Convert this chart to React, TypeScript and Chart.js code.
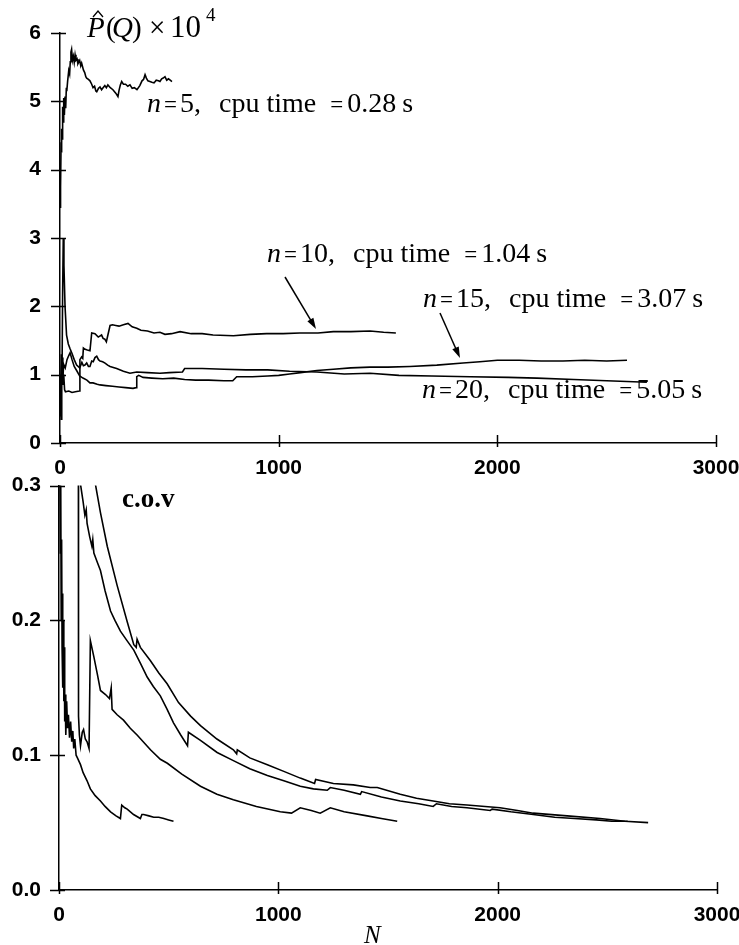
import React, { useEffect, useRef } from 'react';
import { Chart, registerables } from 'chart.js';

Chart.register(...registerables);

// ---------- data ----------
const xTickValues = [0, 1000, 2000, 3000];
const pTickValues = [0, 1, 2, 3, 4, 5, 6];
const covTickValues = [0, 0.1, 0.2, 0.3];

const caseN = ['5', '10', '15', '20'];
const cpuTimes = ['0.28', '1.04', '3.07', '5.05'];

// [N, P^(Q) x 10^4]
const p5: [number, number][] = [[0,3.45],[2,4.0],[3,3.75],[5,4.4],[7,4.25],[8,4.6],[10,4.45],[12,4.92],[14,4.7],[17,5.05],[20,4.8],[23,5.07],[26,4.9],[29,5.2],[31,5.15],[35,5.3],[40,5.45],[44,5.4],[47,5.58],[50,5.72],[53,5.76],[57,5.6],[61,5.66],[65,5.57],[69,5.68],[73,5.6],[78,5.62],[82,5.55],[90,5.6],[95,5.52],[99,5.56],[107,5.46],[113,5.42],[118,5.36],[122,5.34],[130,5.32],[137,5.3],[145,5.25],[151,5.2],[158,5.22],[164,5.15],[168,5.14],[176,5.19],[183,5.21],[190,5.17],[197,5.2],[205,5.23],[212,5.2],[219,5.24],[230,5.2],[242,5.17],[255,5.12],[265,5.07],[270,5.16],[276,5.24],[282,5.29],[290,5.25],[300,5.25],[310,5.22],[320,5.24],[330,5.19],[340,5.2],[352,5.17],[365,5.23],[375,5.3],[382,5.32],[389,5.39],[395,5.34],[402,5.3],[411,5.29],[420,5.28],[430,5.27],[440,5.31],[450,5.3],[457,5.29],[465,5.33],[472,5.34],[480,5.36],[488,5.31],[496,5.33],[504,5.31],[512,5.29]];
const p10: [number, number][] = [[0,0.4],[2,0.9],[4,0.45],[7,1.1],[10,1.25],[13,0.85],[17,1.0],[21,0.78],[25,0.75],[40,0.76],[55,0.74],[70,0.75],[89,0.76],[91,1.22],[99,1.26],[104,1.24],[107,1.39],[115,1.37],[125,1.36],[137,1.35],[145,1.61],[160,1.6],[175,1.55],[190,1.58],[197,1.53],[205,1.52],[212,1.48],[219,1.58],[229,1.72],[240,1.73],[255,1.72],[270,1.71],[290,1.73],[311,1.75],[330,1.7],[351,1.68],[370,1.65],[400,1.64],[430,1.61],[457,1.62],[480,1.59],[510,1.6],[549,1.63],[600,1.6],[650,1.6],[700,1.58],[793,1.57],[870,1.59],[945,1.6],[1020,1.6],[1097,1.61],[1180,1.61],[1250,1.63],[1330,1.63],[1418,1.64],[1480,1.62],[1536,1.61]];
const p15: [number, number][] = [[0,0.5],[2,1.0],[5,0.35],[8,1.1],[12,0.9],[17,1.15],[24,1.1],[32,1.22],[40,1.28],[46,1.32],[55,1.22],[65,1.12],[78,1.05],[90,0.98],[105,0.95],[123,0.92],[137,0.88],[151,0.88],[170,0.86],[183,0.85],[210,0.84],[240,0.83],[270,0.82],[300,0.81],[334,0.8],[348,0.81],[351,0.97],[360,0.99],[380,0.96],[420,0.95],[470,0.94],[520,0.95],[570,0.93],[620,0.92],[680,0.92],[750,0.91],[790,0.91],[808,0.97],[880,0.97],[950,0.98],[1000,0.99],[1050,1.01],[1100,1.03],[1175,1.06],[1250,1.08],[1330,1.1],[1418,1.11],[1500,1.11],[1600,1.12],[1723,1.14],[1843,1.17],[1920,1.19],[2000,1.21],[2100,1.21],[2200,1.2],[2300,1.2],[2400,1.21],[2500,1.2],[2593,1.21]];
const p20: [number, number][] = [[0,1.0],[3,0.55],[6,1.3],[9,0.9],[12,2.2],[15,3.0],[18,2.6],[23,2.0],[30,1.58],[38,1.45],[46,1.38],[55,1.31],[65,1.22],[76,1.14],[90,1.1],[100,1.18],[107,1.13],[114,1.14],[122,1.17],[130,1.12],[137,1.12],[145,1.2],[152,1.19],[160,1.25],[168,1.27],[176,1.22],[183,1.2],[195,1.19],[206,1.17],[218,1.14],[229,1.12],[259,1.09],[290,1.05],[320,1.02],[351,1.04],[400,1.03],[457,1.02],[500,1.03],[560,1.04],[570,1.09],[650,1.09],[750,1.08],[850,1.07],[950,1.07],[1050,1.05],[1175,1.04],[1300,1.01],[1418,1.02],[1550,0.99],[1700,0.98],[1875,0.97],[2050,0.96],[2181,0.95],[2350,0.93],[2500,0.91],[2684,0.89]];

// [N, c.o.v]
const c5: [number, number][] = [[0,0.45],[2,0.3],[4,0.35],[6,0.25],[8,0.3],[10,0.2],[12,0.26],[14,0.18],[16,0.22],[18,0.15],[20,0.2],[22,0.14],[24,0.18],[26,0.125],[28,0.145],[31,0.115],[35,0.14],[39,0.12],[43,0.13],[48,0.113],[53,0.125],[58,0.11],[63,0.118],[67,0.105],[72,0.112],[78,0.1],[84,0.098],[98,0.093],[110,0.087],[128,0.081],[143,0.075],[165,0.07],[189,0.066],[210,0.062],[235,0.058],[260,0.055],[280,0.053],[286,0.063],[300,0.061],[311,0.06],[340,0.056],[371,0.053],[378,0.056],[386,0.056],[410,0.055],[432,0.054],[455,0.054],[478,0.053],[500,0.052],[522,0.051]];
const c10: [number, number][] = [[0,0.9],[88,0.42],[89,0.129],[93,0.115],[98,0.107],[106,0.117],[112,0.119],[120,0.112],[128,0.11],[137,0.105],[143,0.185],[159,0.173],[175,0.16],[189,0.148],[212,0.145],[230,0.142],[238,0.15],[242,0.134],[265,0.13],[294,0.126],[325,0.12],[356,0.115],[417,0.104],[462,0.097],[494,0.094],[560,0.086],[645,0.077],[720,0.071],[795,0.067],[900,0.062],[1009,0.058],[1060,0.057],[1100,0.061],[1150,0.059],[1191,0.057],[1237,0.061],[1300,0.058],[1405,0.055],[1470,0.053],[1542,0.051]];
const c15: [number, number][] = [[80,0.34],[98,0.301],[110,0.288],[118,0.278],[124,0.282],[128,0.272],[140,0.262],[150,0.255],[154,0.26],[159,0.25],[175,0.243],[189,0.237],[210,0.222],[235,0.207],[255,0.2],[280,0.192],[310,0.185],[341,0.178],[372,0.168],[402,0.158],[430,0.151],[462,0.144],[493,0.134],[522,0.124],[555,0.115],[586,0.107],[590,0.117],[645,0.111],[721,0.102],[795,0.096],[870,0.09],[950,0.085],[1025,0.081],[1100,0.077],[1160,0.075],[1223,0.074],[1237,0.076],[1300,0.074],[1374,0.071],[1380,0.073],[1470,0.069],[1556,0.066],[1640,0.064],[1706,0.062],[1721,0.064],[1790,0.062],[1860,0.061],[1966,0.059],[1975,0.06],[2060,0.058],[2162,0.056],[2260,0.054],[2350,0.053],[2450,0.052],[2520,0.051],[2593,0.051]];
const c20: [number, number][] = [[150,0.34],[166,0.301],[189,0.28],[220,0.255],[265,0.226],[311,0.199],[341,0.182],[352,0.18],[356,0.186],[371,0.18],[417,0.17],[455,0.161],[493,0.153],[545,0.139],[600,0.129],[645,0.122],[720,0.112],[795,0.104],[810,0.101],[813,0.104],[870,0.098],[950,0.093],[1025,0.088],[1100,0.083],[1165,0.079],[1170,0.082],[1251,0.079],[1342,0.078],[1419,0.076],[1451,0.076],[1556,0.071],[1630,0.068],[1706,0.066],[1780,0.064],[1860,0.063],[2011,0.061],[2090,0.059],[2162,0.057],[2317,0.055],[2467,0.053],[2580,0.051],[2686,0.05]];

const pSeries = [p5, p10, p15, p20];
const covSeries = [c5, c10, c15, c20];

// ---------- layout / style ----------
const CANVAS_W = 770;
const TOP = { top: 0, height: 490, left: 60, right: 716, areaTop: 33, areaBottom: 443 };
const BOT = { top: 455, height: 490, left: 59, right: 717, areaTop: 479, areaBottom: 890 };
const tickFont = { family: '"Liberation Sans", Arial, sans-serif', size: 21, weight: 'bold' as const };
const serif = (size: number, italic = false, bold = false) =>
  `${italic ? 'italic ' : ''}${bold ? 'bold ' : ''}${size}px "Liberation Serif", "Times New Roman", serif`;

const caseLabelPos = [
  { x: 147, y: 112 },
  { x: 267, y: 262 },
  { x: 423, y: 307 },
  { x: 422, y: 398 },
];
const arrows = [
  { x1: 285, y1: 277, x2: 316, y2: 329 },
  { x1: 440, y1: 313, x2: 460, y2: 358 },
];

function drawArrow(ctx: CanvasRenderingContext2D, a: { x1: number; y1: number; x2: number; y2: number }) {
  const ang = Math.atan2(a.y2 - a.y1, a.x2 - a.x1);
  const L = 11, W = 3.5;
  ctx.beginPath();
  ctx.moveTo(a.x1, a.y1);
  ctx.lineTo(a.x2 - L * 0.7 * Math.cos(ang), a.y2 - L * 0.7 * Math.sin(ang));
  ctx.lineWidth = 1.5;
  ctx.stroke();
  ctx.beginPath();
  ctx.moveTo(a.x2, a.y2);
  ctx.lineTo(a.x2 - L * Math.cos(ang) + W * Math.sin(ang), a.y2 - L * Math.sin(ang) - W * Math.cos(ang));
  ctx.lineTo(a.x2 - L * Math.cos(ang) - W * Math.sin(ang), a.y2 - L * Math.sin(ang) + W * Math.cos(ang));
  ctx.closePath();
  ctx.fill();
}

function drawCaseLabel(ctx: CanvasRenderingContext2D, x: number, y: number, n: string, t: string) {
  const pieces = [
    { t: 'n', size: 28, italic: true, gap: 3 },
    { t: '=', size: 23, gap: 3 },
    { t: n + ',', size: 28, gap: 18 },
    { t: 'cpu time', size: 28, gap: 14 },
    { t: '=', size: 23, gap: 4 },
    { t: t, size: 28, gap: 6 },
    { t: 's', size: 28, gap: 0 },
  ];
  let cx = x;
  for (const p of pieces) {
    ctx.font = serif(p.size, !!(p as any).italic);
    ctx.fillText(p.t, cx, y);
    cx += ctx.measureText(p.t).width + p.gap;
  }
}

function crossTicksPlugin(yOut: number, yIn: number, xIn: number, xOut: number) {
  return {
    id: 'crossTicks',
    afterDraw(chart: any) {
      const { ctx, chartArea, scales } = chart;
      ctx.save();
      ctx.strokeStyle = '#000';
      ctx.lineWidth = 1.5;
      ctx.beginPath();
      for (const t of scales.x.ticks) {
        const px = Math.round(scales.x.getPixelForValue(t.value)) + 0.5;
        ctx.moveTo(px, chartArea.bottom - xIn);
        ctx.lineTo(px, chartArea.bottom + xOut);
      }
      for (const t of scales.y.ticks) {
        const py = Math.round(scales.y.getPixelForValue(t.value)) + 0.5;
        ctx.moveTo(chartArea.left - yOut, py);
        ctx.lineTo(chartArea.left + yIn, py);
      }
      ctx.stroke();
      ctx.restore();
    },
  };
}

function makeOptions(cfg: typeof TOP, yMin: number, yMax: number, yTicks: number[], yFmt: (v: number) => string, xPad: number, yPad: number) {
  return {
    animation: false as const,
    responsive: false,
    maintainAspectRatio: false,
    events: [] as any[],
    layout: { padding: { left: 0, top: cfg.areaTop - cfg.top, right: CANVAS_W - cfg.right, bottom: 0 } },
    plugins: { legend: { display: false }, tooltip: { enabled: false } },
    scales: {
      x: {
        type: 'linear' as const,
        min: 0,
        max: 3000,
        afterBuildTicks: (s: any) => { s.ticks = xTickValues.map((v) => ({ value: v })); },
        afterFit: (s: any) => { s.height = cfg.top + cfg.height - cfg.areaBottom; },
        grid: { display: false, drawTicks: false },
        border: { display: true, color: '#000', width: 1.5 },
        ticks: { padding: xPad, font: tickFont, color: '#000', maxRotation: 0, autoSkip: false, callback: (v: any) => String(v) },
      },
      y: {
        type: 'linear' as const,
        min: yMin,
        max: yMax,
        afterBuildTicks: (s: any) => { s.ticks = yTicks.map((v) => ({ value: v })); },
        afterFit: (s: any) => { s.width = cfg.left; },
        grid: { display: false, drawTicks: false },
        border: { display: true, color: '#000', width: 1.5 },
        ticks: { padding: yPad, font: tickFont, color: '#000', autoSkip: false, callback: (v: any) => yFmt(Number(v)) },
      },
    },
  };
}

function datasetsFrom(series: [number, number][][]) {
  return series.map((s, i) => ({
    label: 'n=' + caseN[i],
    data: s.map(([x, y]) => ({ x, y })),
    borderColor: '#000',
    borderWidth: 1.6,
    pointRadius: 0,
    tension: 0,
    fill: false,
  }));
}

export default function App() {
  const topRef = useRef<HTMLCanvasElement>(null);
  const botRef = useRef<HTMLCanvasElement>(null);

  useEffect(() => {
    const topAnn = {
      id: 'topAnn',
      afterDraw(chart: any) {
        const ctx: CanvasRenderingContext2D = chart.ctx;
        ctx.save();
        ctx.fillStyle = '#000';
        ctx.strokeStyle = '#000';
        ctx.textBaseline = 'alphabetic';
        ctx.textAlign = 'left';
        // axis title  P^(Q) x 10^4
        const by = 37 - TOP.top;
        ctx.font = serif(29, true);
        ctx.fillText('P', 87, by);
        ctx.font = serif(29);
        ctx.fillText('(', 106, by);
        ctx.font = serif(29, true);
        ctx.fillText('Q', 112, by);
        ctx.font = serif(29);
        ctx.fillText(')', 132, by);
        ctx.fillText('\u00d7', 149, by);
        ctx.font = serif(31);
        ctx.fillText('10', 170, by);
        ctx.font = serif(19);
        ctx.fillText('4', 206, 21 - TOP.top);
        ctx.lineWidth = 1.3;
        ctx.beginPath();
        ctx.moveTo(93, 17);
        ctx.lineTo(98, 11);
        ctx.lineTo(103, 17);
        ctx.stroke();
        caseLabelPos.forEach((p, i) => drawCaseLabel(ctx, p.x, p.y - TOP.top, caseN[i], cpuTimes[i]));
        arrows.forEach((a) => drawArrow(ctx, a));
        ctx.restore();
      },
    };
    const botAnn = {
      id: 'botAnn',
      afterDraw(chart: any) {
        const ctx: CanvasRenderingContext2D = chart.ctx;
        ctx.save();
        ctx.fillStyle = '#000';
        ctx.textBaseline = 'alphabetic';
        ctx.textAlign = 'left';
        ctx.font = serif(27, false, true);
        ctx.fillText('c.o.v', 122, 507 - BOT.top);
        ctx.font = serif(25, true);
        ctx.fillText('N', 364, 943 - BOT.top);
        ctx.restore();
      },
    };

    const c1 = new Chart(topRef.current!, {
      type: 'line',
      data: { datasets: datasetsFrom(pSeries) },
      options: makeOptions(TOP, 0, 6, pTickValues, (v) => String(v), 13, 19) as any,
      plugins: [crossTicksPlugin(9, 6, 8, 4), topAnn],
    });
    const c2 = new Chart(botRef.current!, {
      type: 'line',
      data: { datasets: datasetsFrom(covSeries) },
      options: makeOptions(BOT as any, 0, 0.3, covTickValues, (v) => v.toFixed(1), 13, 18) as any,
      plugins: [crossTicksPlugin(9, 6, 8, 4), botAnn],
    });
    return () => {
      c1.destroy();
      c2.destroy();
    };
  }, []);

  return (
    <div style={{ position: 'absolute', left: 0, top: 0, width: 739, height: 945, overflow: 'hidden', background: '#fff' }}>
      <canvas ref={topRef} width={CANVAS_W} height={TOP.height} style={{ position: 'absolute', left: 0, top: TOP.top, width: CANVAS_W, height: TOP.height }} />
      <canvas ref={botRef} width={CANVAS_W} height={BOT.height} style={{ position: 'absolute', left: 0, top: BOT.top, width: CANVAS_W, height: BOT.height }} />
    </div>
  );
}
